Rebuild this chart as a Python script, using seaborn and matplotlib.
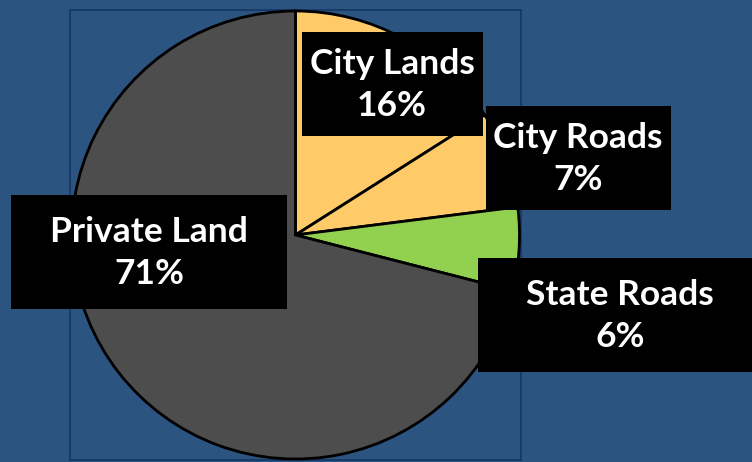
import matplotlib
matplotlib.use("Agg")
import matplotlib.pyplot as plt
from matplotlib.patches import Rectangle
import seaborn as sns

categories = ["City Lands", "City Roads", "State Roads", "Private Land"]
shares = [16, 7, 6, 71]
colors = ["#FFCA68", "#FFCA68", "#92D050", "#4D4D4D"]

sns.set_style("white")
plt.rcParams["font.family"] = ["Lato", "DejaVu Sans"]

W, H = 752, 462
bg = "#2C5480"
fig = plt.figure(figsize=(W / 100, H / 100), dpi=100, facecolor=bg)

# plot area in pixels (left, top, right, bottom)
pl, pt, pr, pb = 70, 10, 521, 460
ax = fig.add_axes([pl / W, 1 - pb / H, (pr - pl) / W, (pb - pt) / H])
ax.set_facecolor(bg)
R = 224.0
ax.pie(shares, colors=colors, startangle=90, counterclock=False,
       wedgeprops=dict(edgecolor="black", linewidth=2.0), radius=1.0)
ax.set_xlim(-(pr - pl) / 2 / R, (pr - pl) / 2 / R)
ax.set_ylim(-(pb - pt) / 2 / R, (pb - pt) / 2 / R)
ax.set_aspect("auto")
ax.set_frame_on(True)
ax.set_xticks([])
ax.set_yticks([])
for s in ax.spines.values():
    s.set_visible(True)
    s.set_color("#163A68")
    s.set_linewidth(1.3)
    s.set_zorder(0.5)

# label boxes (pixel extents: left, top, right, bottom) and text centres
boxes = {
    "City Lands": (302, 32, 483, 136),
    "City Roads": (486, 106, 671, 210),
    "State Roads": (478, 258, 770, 372),
    "Private Land": (11, 195, 287, 309),
}
text_centers = {
    "City Lands": (392, 85),
    "City Roads": (578, 159),
    "State Roads": (620, 316),
    "Private Land": (149, 253),
}

def px(x, y):
    return x / W, 1 - y / H

for cat, val in zip(categories, shares):
    l, t, r, b = boxes[cat]
    fig.patches.append(Rectangle(px(l, b), (r - l) / W, (b - t) / H,
                                 transform=fig.transFigure, facecolor="black",
                                 edgecolor="none", zorder=5))
    cx, cy = text_centers[cat]
    fig.text(*px(cx, cy), f"{cat}\n{val}%", ha="center", va="center",
             color="white", fontsize=25.5, fontweight="bold", linespacing=1.42,
             zorder=6)

fig.savefig("out.png", dpi=100, facecolor=bg)
